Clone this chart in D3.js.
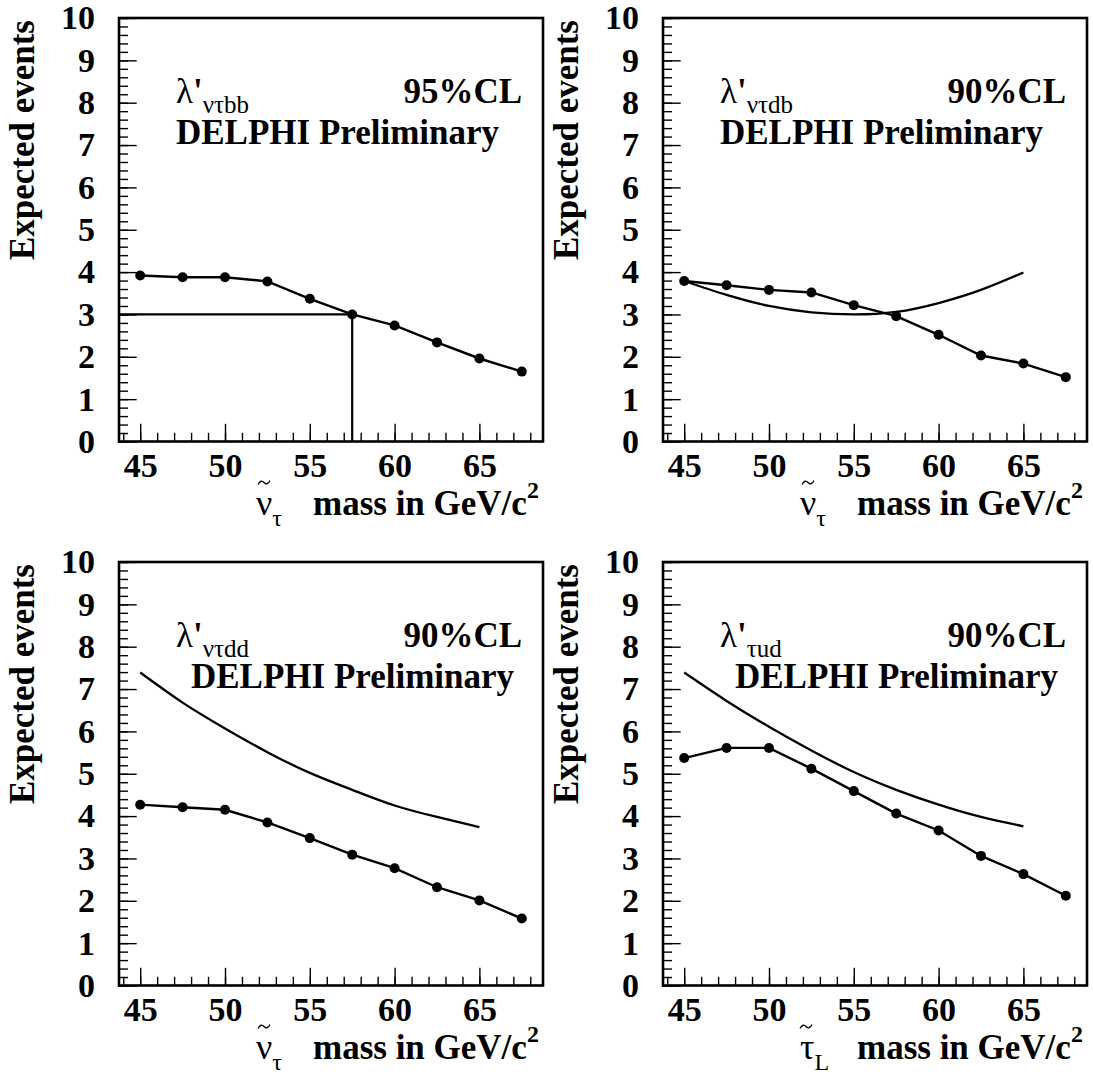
<!DOCTYPE html>
<html>
<head>
<meta charset="utf-8">
<script src="https://cdn.jsdelivr.net/npm/d3@7"></script>
<style>
  body { margin: 0; background: #fff; }
  svg { display: block; }
  svg text { font-family: "Liberation Serif", "Times New Roman", serif; fill: #000; }
</style>
</head>
<body>
<svg id="chart" width="1093" height="1074"></svg>
<script>
// masses (GeV/c2) where the expected number of events was computed
const masses = [45, 47.5, 50, 52.5, 55, 57.5, 60, 62.5, 65, 67.5];
const eventsBB = [3.92, 3.88, 3.88, 3.78, 3.37, 3.00, 2.74, 2.34, 1.96, 1.65];
const eventsDB = [3.79, 3.69, 3.58, 3.52, 3.22, 2.96, 2.52, 2.03, 1.84, 1.52];
const eventsDD = [4.27, 4.21, 4.15, 3.85, 3.48, 3.09, 2.77, 2.32, 2.01, 1.58];
const eventsUD = [5.37, 5.61, 5.61, 5.12, 4.59, 4.06, 3.66, 3.06, 2.63, 2.12];

// 90% CL limit curves
const limitMasses = [45, 47.5, 50, 52.5, 55, 57.5, 60, 62.5, 65];
const limitDB = [3.79, 3.46, 3.20, 3.05, 3.00, 3.06, 3.27, 3.58, 3.99];
const limitDD = [7.39, 6.68, 6.07, 5.51, 5.02, 4.62, 4.25, 3.98, 3.74];
const limitUD = [7.39, 6.72, 6.11, 5.55, 5.04, 4.62, 4.27, 3.98, 3.76];

// 95% CL crossing in the first panel
const crossMass = 57.5;
const crossEvents = 3;

const xTicks = [45, 50, 55, 60, 65];
const yTicks = [0, 1, 2, 3, 4, 5, 6, 7, 8, 9, 10];

const panels = [
    { col: 0, row: 0, events: eventsBB, limit: null, sub: "ντbb", cl: "95%CL", delphiX: 57, part: "ν", partSub: "τ", cross: true },
    { col: 1, row: 0, events: eventsDB, limit: limitDB, sub: "ντdb", cl: "90%CL", delphiX: 57, part: "ν", partSub: "τ" },
    { col: 0, row: 1, events: eventsDD, limit: limitDD, sub: "ντdd", cl: "90%CL", delphiX: 72, part: "ν", partSub: "τ" },
    { col: 1, row: 1, events: eventsUD, limit: limitUD, sub: "τud", cl: "90%CL", delphiX: 72, part: "τ", partSub: "L" }
];

const margin = { top: 18, left: 119 };
const step = 544;
const width = 424;
const height = 423.5;

const svg = d3.select("#chart");

panels.forEach(function(p) {
    const g = svg.append("g")
        .attr("transform", `translate(${p.col * step + margin.left},${p.row * step + margin.top})`);

    const x = d3.scaleLinear().domain([43.75, 68.75]).range([0, width]);
    const y = d3.scaleLinear().domain([0, 10]).range([height, 0]);

    // minor ticks
    g.append("g")
        .attr("transform", `translate(0,${height})`)
        .call(d3.axisBottom(x).tickValues(d3.range(44, 69)).tickSize(-8.7).tickFormat(""))
        .call(a => a.select(".domain").remove());
    g.append("g")
        .call(d3.axisLeft(y).tickValues(d3.range(0, 51).map(i => i / 5)).tickSize(-9).tickFormat(""))
        .call(a => a.select(".domain").remove());

    // major ticks + labels
    const xAxis = g.append("g")
        .attr("transform", `translate(0,${height})`)
        .call(d3.axisBottom(x).tickValues(xTicks).tickSize(-17.7).tickPadding(11))
        .call(a => a.select(".domain").remove());
    const yAxis = g.append("g")
        .call(d3.axisLeft(y).tickValues(yTicks).tickSize(-17.7).tickPadding(24))
        .call(a => a.select(".domain").remove());
    [xAxis, yAxis].forEach(a => {
        a.selectAll("text")
            .attr("font-weight", "bold")
            .attr("font-size", 34);
    });
    g.selectAll(".tick line").attr("stroke", "#000").attr("stroke-width", 1.4);

    // frame
    g.append("rect")
        .attr("width", width)
        .attr("height", height)
        .attr("fill", "none")
        .attr("stroke", "#000")
        .attr("stroke-width", 2.6);

    // limit curve
    if (p.limit) {
        g.append("path")
            .datum(limitMasses.map((m, i) => [m, p.limit[i]]))
            .attr("fill", "none")
            .attr("stroke", "#000")
            .attr("stroke-width", 2.3)
            .attr("d", d3.line().x(d => x(d[0])).y(d => y(d[1])).curve(d3.curveNatural));
    }

    // crossing lines
    if (p.cross) {
        g.append("path")
            .attr("fill", "none")
            .attr("stroke", "#000")
            .attr("stroke-width", 2.2)
            .attr("d", `M${x(43.75)},${y(crossEvents)}H${x(crossMass)}V${y(0)}`);
    }

    // expected events
    const pts = masses.map((m, i) => [m, p.events[i]]);
    g.append("path")
        .datum(pts)
        .attr("fill", "none")
        .attr("stroke", "#000")
        .attr("stroke-width", 2.4)
        .attr("d", d3.line().x(d => x(d[0])).y(d => y(d[1])));
    g.selectAll(".pt")
        .data(pts)
        .enter().append("circle")
        .attr("class", "pt")
        .attr("cx", d => x(d[0]))
        .attr("cy", d => y(d[1]))
        .attr("r", 5)
        .attr("fill", "#000");

    // coupling label
    const lab = g.append("text")
        .attr("x", 57)
        .attr("y", 84.7)
        .attr("font-size", 35);
    lab.append("tspan").text("λ");
    lab.append("tspan").attr("font-weight", "bold").text("'");
    lab.append("tspan").attr("font-size", 25).attr("dy", 10).text(p.sub);

    g.append("text")
        .attr("x", 403)
        .attr("y", 84.7)
        .attr("text-anchor", "end")
        .attr("font-weight", "bold")
        .attr("font-size", 35)
        .text(p.cl);

    g.append("text")
        .attr("x", p.delphiX)
        .attr("y", 125.8)
        .attr("font-weight", "bold")
        .attr("font-size", 35)
        .text("DELPHI Preliminary");

    // y title
    g.append("text")
        .attr("transform", "translate(-85,2) rotate(-90)")
        .attr("text-anchor", "end")
        .attr("font-weight", "bold")
        .attr("font-size", 35)
        .text("Expected events");

    // x title: particle symbol with tilde accent
    const base = height + 73;
    const tx = p.part === "τ" ? 143 : 145;
    g.append("path")
        .attr("fill", "none")
        .attr("stroke", "#000")
        .attr("stroke-width", 1.3)
        .attr("d", `M${tx - 6},${base - 30} C${tx - 4},${base - 34} ${tx - 2},${base - 34} ${tx},${base - 32} S${tx + 4},${base - 30} ${tx + 6},${base - 34}`);
    const sym = g.append("text")
        .attr("x", 137)
        .attr("y", base)
        .attr("font-size", 36);
    sym.append("tspan").text(p.part);
    sym.append("tspan").attr("font-size", 24).attr("dy", 11).text(p.partSub);

    const xt = g.append("text")
        .attr("x", 194)
        .attr("y", base)
        .attr("font-weight", "bold")
        .attr("font-size", 35);
    xt.append("tspan").text("mass in GeV/c");
    xt.append("tspan").attr("font-size", 24).attr("dy", -17).text("2");
});
</script>
</body>
</html>
